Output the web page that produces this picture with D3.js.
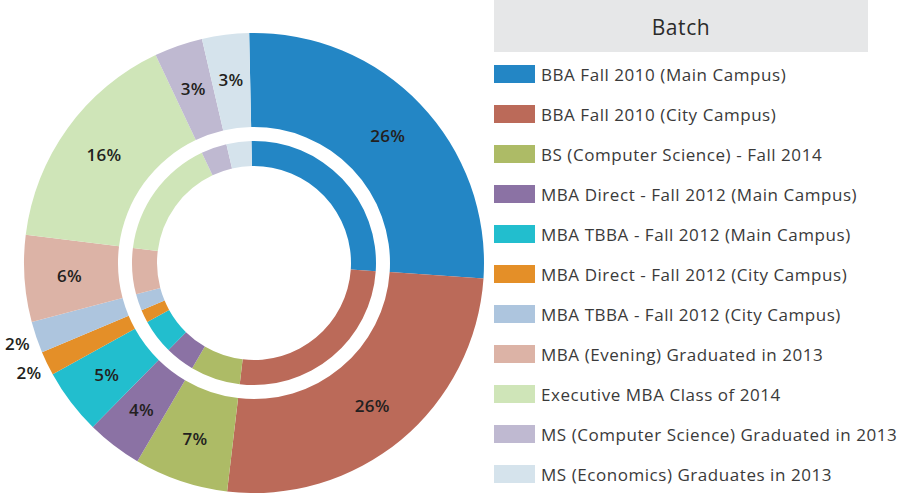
<!DOCTYPE html>
<html>
<head>
<meta charset="utf-8">
<script src="https://cdn.jsdelivr.net/npm/d3@7"></script>
<style>
  html, body { margin: 0; padding: 0; background: #ffffff; }
  svg { display: block; font-family: "Open Sans", "Lato", sans-serif; }
</style>
</head>
<body>
<svg id="chart" width="903" height="495"></svg>
<script>
// Share of alumni by batch (percent of total)
const batches = [
  "BBA Fall 2010 (Main Campus)",
  "BBA Fall 2010 (City Campus)",
  "BS (Computer Science) - Fall 2014",
  "MBA Direct - Fall 2012 (Main Campus)",
  "MBA TBBA - Fall 2012 (Main Campus)",
  "MBA Direct - Fall 2012 (City Campus)",
  "MBA TBBA - Fall 2012 (City Campus)",
  "MBA (Evening) Graduated in 2013",
  "Executive MBA Class of 2014",
  "MS (Computer Science) Graduated in 2013",
  "MS (Economics) Graduates in 2013"
];
const shares = [26.4, 25.8, 6.6, 3.9, 4.6, 1.7, 2.2, 6.1, 16.0, 3.4, 3.3];
const colors = [
  "#2386c5", "#bb6a59", "#adbb66", "#8b72a4", "#22bece", "#e48f28",
  "#adc5de", "#dcb3a6", "#cfe5b8", "#bfb9d1", "#d5e3ec"
];
const legendTitle = "Batch";

const svg = d3.select("#chart");
const cx = 254, cy = 263;
const startA = -0.021;

const pie = d3.pie()
  .sort(null)
  .value(d => d.value)
  .startAngle(startA)
  .endAngle(startA + 2 * Math.PI);

const data = batches.map((name, i) => ({ name, value: shares[i] }));
const arcs = pie(data);
const total = d3.sum(shares);

const color = d3.scaleOrdinal().domain(batches).range(colors);

const outerArc = d3.arc().innerRadius(136).outerRadius(230);
const innerArc = d3.arc().innerRadius(97).outerRadius(122);

const g = svg.append("g").attr("transform", `translate(${cx},${cy})`);

// outer ring
g.append("g").selectAll("path")
  .data(arcs)
  .join("path")
  .attr("d", outerArc)
  .attr("fill", d => color(d.data.name));

// thinner inner ring
g.append("g").selectAll("path")
  .data(arcs)
  .join("path")
  .attr("d", innerArc)
  .attr("fill", d => color(d.data.name));

// percentage labels: inside the ring, or just outside for thin slices
const labelIn = d3.arc().innerRadius(185).outerRadius(185);
const labelOut = d3.arc().innerRadius(250).outerRadius(250);
g.append("g").selectAll("text")
  .data(arcs)
  .join("text")
  .attr("transform", d => {
    const p = (d.data.value / total * 100 < 2.5 ? labelOut : labelIn).centroid(d);
    return `translate(${p[0]},${p[1]})`;
  })
  .attr("text-anchor", "middle")
  .attr("dominant-baseline", "central")
  .attr("font-size", 17)
  .attr("font-weight", 600)
  .attr("letter-spacing", 0.3)
  .attr("fill", "#231f20")
  .text(d => Math.round(d.data.value / total * 100) + "%");

// legend
const legend = svg.append("g").attr("transform", "translate(494,0)");
legend.append("rect")
  .attr("x", 0).attr("y", 0)
  .attr("width", 374).attr("height", 52)
  .attr("fill", "#e6e7e8");
legend.append("text")
  .attr("x", 187).attr("y", 27)
  .attr("text-anchor", "middle")
  .attr("dominant-baseline", "central")
  .attr("font-size", 21)
  .attr("letter-spacing", 0.6)
  .attr("fill", "#2b2b2b")
  .text(legendTitle);

const rowY = d3.scalePoint().domain(batches).range([74, 474]);
const rows = legend.selectAll("g.row")
  .data(batches)
  .join("g")
  .attr("class", "row")
  .attr("transform", d => `translate(0,${rowY(d)})`);
rows.append("rect")
  .attr("x", 0).attr("y", -9)
  .attr("width", 41).attr("height", 18)
  .attr("fill", d => color(d));
rows.append("text")
  .attr("x", 47).attr("y", 0)
  .attr("dominant-baseline", "central")
  .attr("font-size", 17)
  .attr("letter-spacing", 0.55)
  .attr("fill", "#3a3a3a")
  .text(d => d);
</script>
</body>
</html>
